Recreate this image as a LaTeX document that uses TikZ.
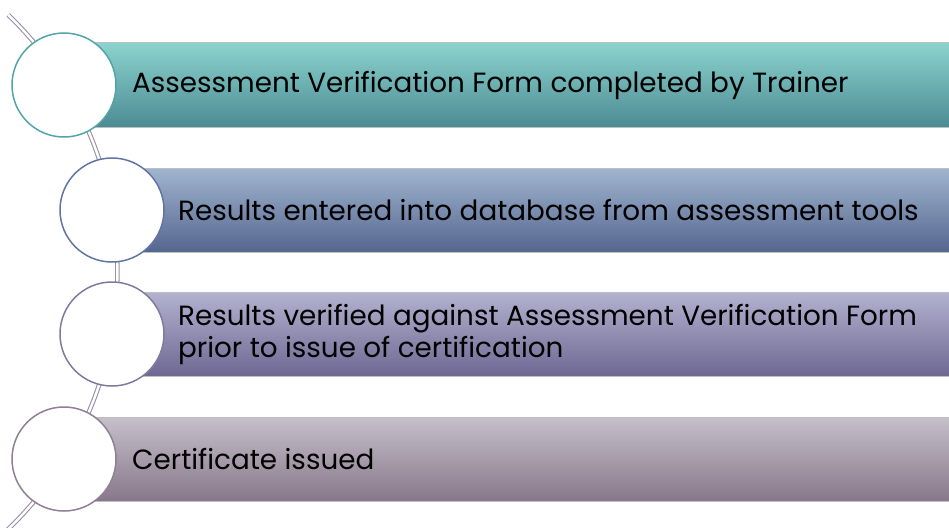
\documentclass[tikz,border=0pt]{standalone}
\usepackage{fontspec}
\setmainfont{Poppins}
\definecolor{tealtop}{HTML}{8BD3CE}\definecolor{tealbot}{HTML}{4C8B93}\definecolor{tealrim}{HTML}{52A4AA}
\definecolor{bluetop}{HTML}{A0B5CF}\definecolor{bluebot}{HTML}{55668F}\definecolor{bluerim}{HTML}{6274A5}
\definecolor{violtop}{HTML}{B3B2D0}\definecolor{violbot}{HTML}{6E6892}\definecolor{violrim}{HTML}{807A9E}
\definecolor{mauvtop}{HTML}{C6C0CA}\definecolor{mauvbot}{HTML}{87778A}\definecolor{mauvrim}{HTML}{8F8096}
\definecolor{arcline}{HTML}{9A8FA6}
\tikzset{
	bar/.style={rectangle, anchor=west, minimum height=84pt, inner sep=0pt, draw=black!25, line width=1pt},
	steptext/.style={anchor=west, align=left, inner sep=0pt, font=\fontsize{27.8}{32}\selectfont},
	ball/.style={circle, fill=white, line width=1.5pt, minimum size=104pt, inner sep=0pt},
	link/.style={draw=arcline, double=white, double distance=2.4pt, line width=1.1pt}
}
\begin{document}
\begin{tikzpicture}[x=1pt, y=-1pt]
	\useasboundingbox (0,0) rectangle (949,527);
	\clip (0,0) rectangle (949,527);
	\coordinate (hub) at (-240,272);
	\draw[link] ([shift={(46:357.4pt)}]hub) arc[start angle=46, end angle=-47, radius=357.4pt];
	% bars
	\node[bar, top color=tealtop, bottom color=tealbot, minimum width=885pt] (b1) at (64,85) {};
	\node[bar, top color=bluetop, bottom color=bluebot, minimum width=837pt] (b2) at (112,210) {};
	\node[bar, top color=violtop, bottom color=violbot, minimum width=837pt] (b3) at (112,334) {};
	\node[bar, top color=mauvtop, bottom color=mauvbot, minimum width=885pt] (b4) at (64,459) {};
	\node[steptext] (t1) at (132,85) {Assessment Verification Form completed by Trainer};
	\node[steptext] (t2) at (178,210) {Results entered into database from assessment tools};
	\node[steptext] (t3) at (178,334) {Results verified against Assessment Verification Form\\prior to issue of certification};
	\node[steptext] (t4) at (132,459) {Certificate issued};
	% circles
	\node[ball, draw=tealrim] (c1) at (64,85) {};
	\node[ball, draw=bluerim] (c2) at (112,210) {};
	\node[ball, draw=violrim] (c3) at (112,334) {};
	\node[ball, draw=mauvrim] (c4) at (64,459) {};
\end{tikzpicture}
\end{document}
